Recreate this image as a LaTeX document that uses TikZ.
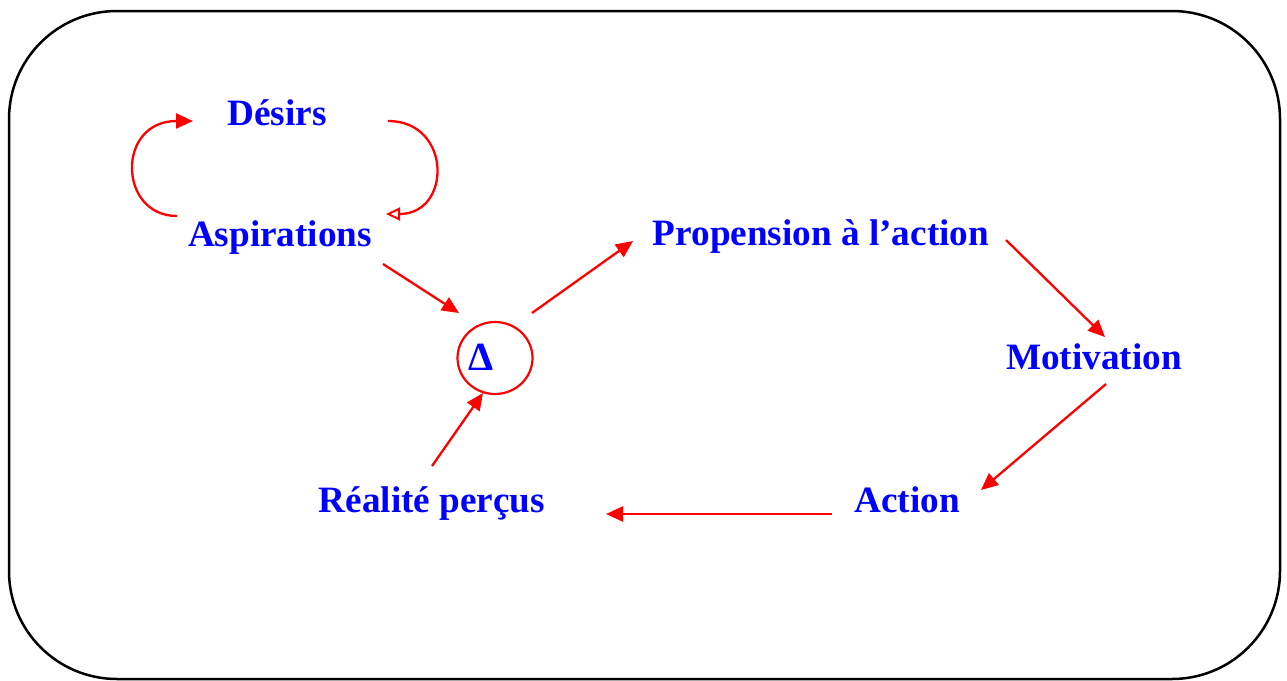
\documentclass[tikz,border=0pt]{standalone}
\usepackage{fontspec}
\setmainfont{Liberation Serif}
\usetikzlibrary{arrows.meta,shapes.geometric}
\definecolor{tblue}{RGB}{0,0,255}
\definecolor{tred}{RGB}{255,0,0}
\begin{document}
\begin{tikzpicture}[x=1pt,y=-1pt,
  lbl/.style={text=tblue,font=\fontsize{37.2}{40}\selectfont\bfseries,inner sep=0pt,anchor=base},
  conn/.style={draw=tred,line width=2.3pt,-{Triangle[length=17pt,width=15pt]}},
  connopen/.style={draw=tred,line width=2.3pt,-{Triangle[open,length=14pt,width=13pt,line width=2pt]}}]
\useasboundingbox (0,0) rectangle (1287,680);
\draw[line width=2.5pt,rounded corners=108pt] (9,11) rectangle (1280,679);
\node[lbl] (des) at (277,125) {Désirs};
\node[lbl] (asp) at (280,246) {Aspirations};
\node[lbl] (prop) at (821,245) {Propension à l’action};
\node[lbl] (mot) at (1094,369) {Motivation};
\node[lbl] (act) at (907,512) {Action};
\node[lbl] (real) at (432,512) {Réalité perçus};
\node[draw=tred,line width=2.2pt,ellipse,minimum width=75pt,minimum height=72pt,inner sep=0pt] (circ) at (495,358) {};
\node[lbl,font=\fontsize{40}{44}\selectfont\bfseries] (delta) at (481,370) {Δ};
% loops
\coordinate (l1) at (177,216);
\coordinate (l2) at (193,121);
\coordinate (r1) at (388,121);
\coordinate (r2) at (386,214);
\draw[conn] (l1) .. controls (118,216) and (116,121) .. (l2);
\draw[connopen] (r1) .. controls (452,121) and (452,214) .. (r2);
% straight connectors
\coordinate (a1) at (383,264); \coordinate (a2) at (459,313);
\coordinate (b1) at (532,313); \coordinate (b2) at (633,241);
\coordinate (c1) at (1006,240); \coordinate (c2) at (1105,337);
\coordinate (d1) at (1106,384); \coordinate (d2) at (981,490);
\coordinate (e1) at (832,514); \coordinate (e2) at (606,514);
\coordinate (f1) at (432,466); \coordinate (f2) at (483,393);
\draw[conn] (a1) -- (a2);
\draw[conn] (b1) -- (b2);
\draw[conn] (c1) -- (c2);
\draw[conn] (d1) -- (d2);
\draw[conn] (e1) -- (e2);
\draw[conn] (f1) -- (f2);
\end{tikzpicture}
\end{document}
